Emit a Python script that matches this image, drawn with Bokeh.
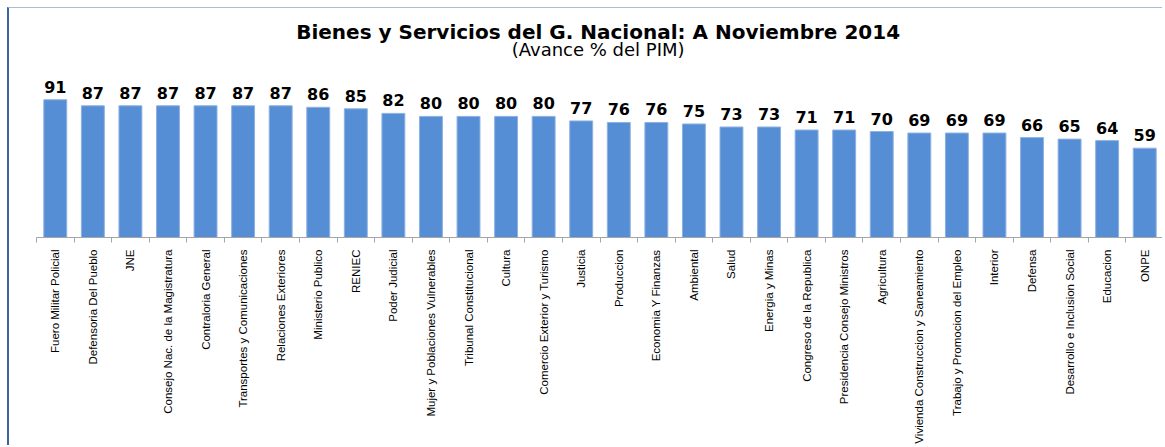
import numpy as np
from bokeh.plotting import figure
from bokeh.models import FixedTicker, Range1d, ColumnDataSource, LabelSet
from bokeh.core.properties import value
from bokeh.embed import file_html
from bokeh.resources import INLINE

categories = [
    "Fuero Militar Policial", "Defensoria Del Pueblo", "JNE",
    "Consejo Nac. de la Magistratura", "Contraloria General",
    "Transportes y Comunicaciones", "Relaciones Exteriores", "Ministerio Publico",
    "RENIEC", "Poder Judicial", "Mujer y Poblaciones Vulnerables",
    "Tribunal Constitucional", "Cultura", "Comercio Exterior y Turismo",
    "Justicia", "Produccion", "Economia Y Finanzas", "Ambiental", "Salud",
    "Energia y Minas", "Congreso de la Republica", "Presidencia Consejo Ministros",
    "Agricultura", "Vivienda Construccion y Saneamiento",
    "Trabajo y Promocion del Empleo", "Interior", "Defensa",
    "Desarrollo e Inclusion Social", "Educacion", "ONPE",
]
values = [91, 87, 87, 87, 87, 87, 87, 86, 85, 82, 80, 80, 80, 80, 77,
          76, 76, 75, 73, 73, 71, 71, 70, 69, 69, 69, 66, 65, 64, 59]
title_text = "Bienes y Servicios del G. Nacional: A Noviembre 2014"
subtitle_text = "(Avance % del PIM)"

n = len(categories)
xs = list(range(n))
src = ColumnDataSource(dict(x=xs, top=values, label=[str(v) for v in values]))

p = figure(width=1155, height=438, output_backend="svg", toolbar_location=None,
           x_range=Range1d(-0.5, n - 0.5), y_range=Range1d(0, 146),
           min_border_left=27, min_border_right=1, min_border_top=8,
           min_border_bottom=208)
p.styles = {"margin-left": "7px", "margin-top": "7px",
            "border-left": "2px solid #3d64a0", "border-top": "1px solid #a9bcd4"}

p.vbar(x="x", top="top", width=0.61, source=src, fill_color="#558ED5",
       line_color="#8DB1E2", line_width=1)
labels = LabelSet(x="x", y="top", text="label", source=src, text_align="center",
                  text_baseline="alphabetic", y_offset=7, text_font=value("DejaVu Sans"),
                  text_font_style="bold", text_font_size="16px", text_color="#000000")
p.add_layout(labels)

p.text(x=[14.45], y=[135.5], text=[title_text], text_align="center",
       text_baseline="middle", text_font=value("DejaVu Sans"), text_font_style="bold",
       text_font_size="20px", text_color="#000000")
p.text(x=[14.45], y=[124.0], text=[subtitle_text], text_align="center",
       text_baseline="middle", text_font=value("DejaVu Sans"),
       text_font_size="18px", text_color="#000000")

p.xaxis.ticker = FixedTicker(ticks=xs, minor_ticks=[i - 0.5 for i in range(n + 1)])
p.xaxis.major_label_overrides = {i: c for i, c in enumerate(categories)}
p.xaxis.major_label_orientation = np.pi / 2
p.xaxis.major_label_text_font = "Liberation Sans"
p.xaxis.major_label_text_font_size = "11.5px"
p.xaxis.major_label_text_color = "#000000"
p.xaxis.major_label_standoff = 7
p.xaxis.major_tick_line_color = None
p.xaxis.major_tick_out = 0
p.xaxis.major_tick_in = 0
p.xaxis.minor_tick_line_color = "#a6a6a6"
p.xaxis.minor_tick_out = 5
p.xaxis.minor_tick_in = 0
p.xaxis.axis_line_color = "#a6a6a6"
p.yaxis.visible = False
p.xgrid.visible = False
p.ygrid.visible = False
p.outline_line_color = None
p.background_fill_color = "#ffffff"
p.border_fill_color = "#ffffff"

open("out.html", "w").write(file_html(p, INLINE))
